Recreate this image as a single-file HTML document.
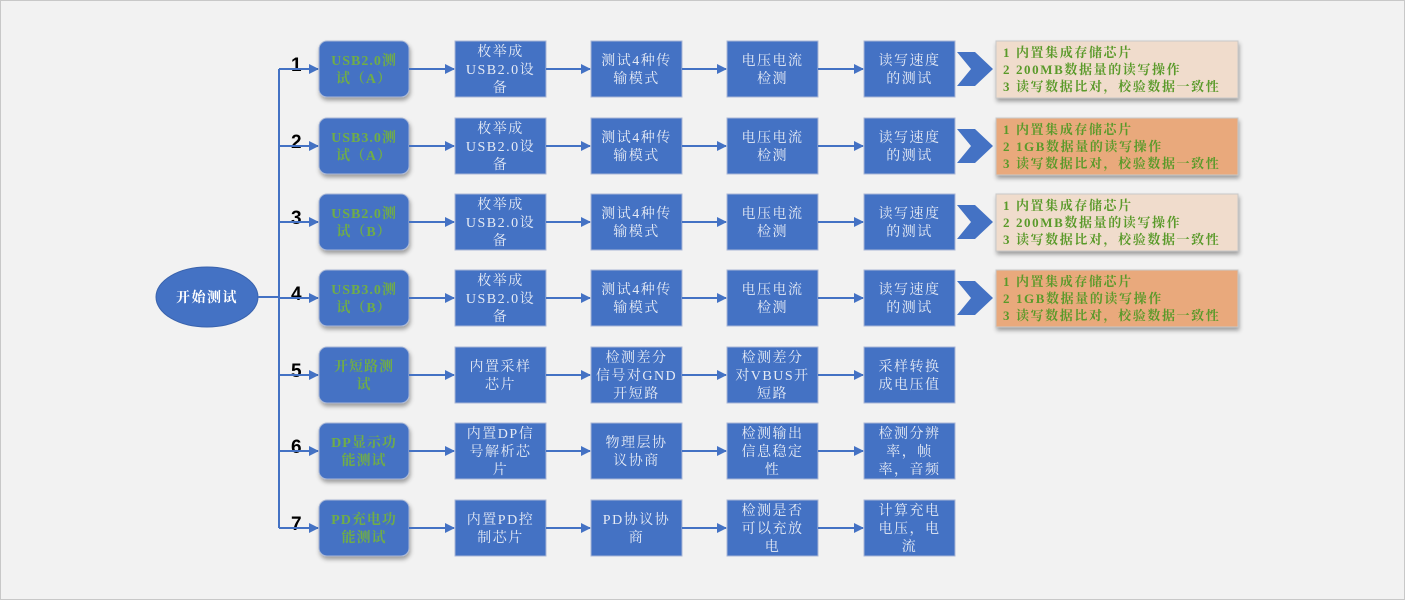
<!DOCTYPE html>
<html><head><meta charset="utf-8"><style>
html,body{margin:0;padding:0;background:#fff}
svg{display:block}
.t{font-family:"Liberation Serif","Noto Serif CJK SC",serif;font-size:14px;fill:#e6ebf5;text-anchor:middle;letter-spacing:1.5px}
.g{font-family:"Liberation Serif","Noto Serif CJK SC",serif;font-size:14px;fill:#70AD47;text-anchor:middle;font-weight:bold;letter-spacing:1px}
.i{font-family:"Liberation Serif","Noto Serif CJK SC",serif;font-size:13px;fill:#5a9a2a;font-weight:bold;letter-spacing:1.6px}
.n{font-family:"Liberation Sans",sans-serif;font-size:19px;font-weight:bold;fill:#000}
</style></head><body>
<svg width="1405" height="600" viewBox="0 0 1405 600" xmlns="http://www.w3.org/2000/svg">
<defs>
<marker id="a" markerWidth="10" markerHeight="10" refX="9" refY="5" orient="auto" markerUnits="userSpaceOnUse"><path d="M0,0 L10,5 L0,10 z" fill="#4472C4"/></marker>
<filter id="s" x="-10%" y="-10%" width="130%" height="140%"><feDropShadow dx="1" dy="3" stdDeviation="2" flood-color="#000" flood-opacity="0.35"/></filter>
</defs>
<rect x="0.5" y="0.5" width="1404" height="599" fill="#F2F2F2" stroke="#c8c8c8"/>
<ellipse cx="207" cy="297" rx="51" ry="30" fill="#4472C4" stroke="#3a63ad"/>
<text x="207" y="302" class="t" style="fill:#fff;font-weight:bold">开始测试</text>
<line x1="258" y1="297" x2="279" y2="297" stroke="#4472C4" stroke-width="2"/>
<line x1="279" y1="69" x2="279" y2="528" stroke="#4472C4" stroke-width="2"/>
<g id="rows"></g>
</svg>
<script>
var rows=[
[69,["USB2.0测","试（A）"],[["枚举成","USB2.0设","备"],["测试4种传","输模式"],["电压电流","检测"],["读写速度","的测试"]],["1 内置集成存储芯片","2 200MB数据量的读写操作","3 读写数据比对，校验数据一致性"],"#F0DCCC"],
[146,["USB3.0测","试（A）"],[["枚举成","USB2.0设","备"],["测试4种传","输模式"],["电压电流","检测"],["读写速度","的测试"]],["1 内置集成存储芯片","2 1GB数据量的读写操作","3 读写数据比对，校验数据一致性"],"#E9A97B"],
[222,["USB2.0测","试（B）"],[["枚举成","USB2.0设","备"],["测试4种传","输模式"],["电压电流","检测"],["读写速度","的测试"]],["1 内置集成存储芯片","2 200MB数据量的读写操作","3 读写数据比对，校验数据一致性"],"#F0DCCC"],
[298,["USB3.0测","试（B）"],[["枚举成","USB2.0设","备"],["测试4种传","输模式"],["电压电流","检测"],["读写速度","的测试"]],["1 内置集成存储芯片","2 1GB数据量的读写操作","3 读写数据比对，校验数据一致性"],"#E9A97B"],
[375,["开短路测","试"],[["内置采样","芯片"],["检测差分","信号对GND","开短路"],["检测差分","对VBUS开","短路"],["采样转换","成电压值"]],null],
[451,["DP显示功","能测试"],[["内置DP信","号解析芯","片"],["物理层协","议协商"],["检测输出","信息稳定","性"],["检测分辨","率，帧","率，音频"]],null],
[528,["PD充电功","能测试"],[["内置PD控","制芯片"],["PD协议协","商"],["检测是否","可以充放","电"],["计算充电","电压，电","流"]],null]];
var xs=[455,591,727,864],w=91,h=56,s="";
function txt(lines,cx,cy,cls){var lh=18,y0=cy-(lines.length-1)*lh/2+5,o="";lines.forEach(function(l,k){o+='<text class="'+cls+'" x="'+cx+'" y="'+(y0+k*lh)+'">'+l+'</text>'});return o;}
rows.forEach(function(r,i){var y=r[0];
s+='<text class="n" x="291" y="'+(y+2)+'">'+(i+1)+'</text>';
s+='<line x1="279" y1="'+y+'" x2="318" y2="'+y+'" stroke="#4472C4" stroke-width="2" marker-end="url(#a)"/>';
s+='<rect x="319" y="'+(y-28)+'" width="90" height="56" rx="8" fill="#4472C4" stroke="#a9b7d6" filter="url(#s)"/>';
s+=txt(r[1],364,y,"g");
var px=409;
r[2].forEach(function(b,j){var x=xs[j];
s+='<line x1="'+px+'" y1="'+y+'" x2="'+(x-1)+'" y2="'+y+'" stroke="#4472C4" stroke-width="2" marker-end="url(#a)"/>';
s+='<rect x="'+x+'" y="'+(y-28)+'" width="'+w+'" height="'+h+'" fill="#4472C4" stroke="#a9b7d6"/>';
s+=txt(b,x+w/2,y,"t");px=x+w;});
if(r[3]){
s+='<path d="M957,'+(y-17)+' L975,'+(y-17)+' L993,'+y+' L975,'+(y+17)+' L957,'+(y+17)+' L971,'+y+' z" fill="#4472C4"/>';
s+='<rect x="996" y="'+(y-28)+'" width="242" height="57" fill="'+r[4]+'" stroke="#c9c9c9" filter="url(#s)"/>';
r[3].forEach(function(l,k){s+='<text class="i" x="1003" y="'+(y-12+k*17)+'">'+l+'</text>'});}
});
document.getElementById("rows").innerHTML=s;
</script>
</body></html>
